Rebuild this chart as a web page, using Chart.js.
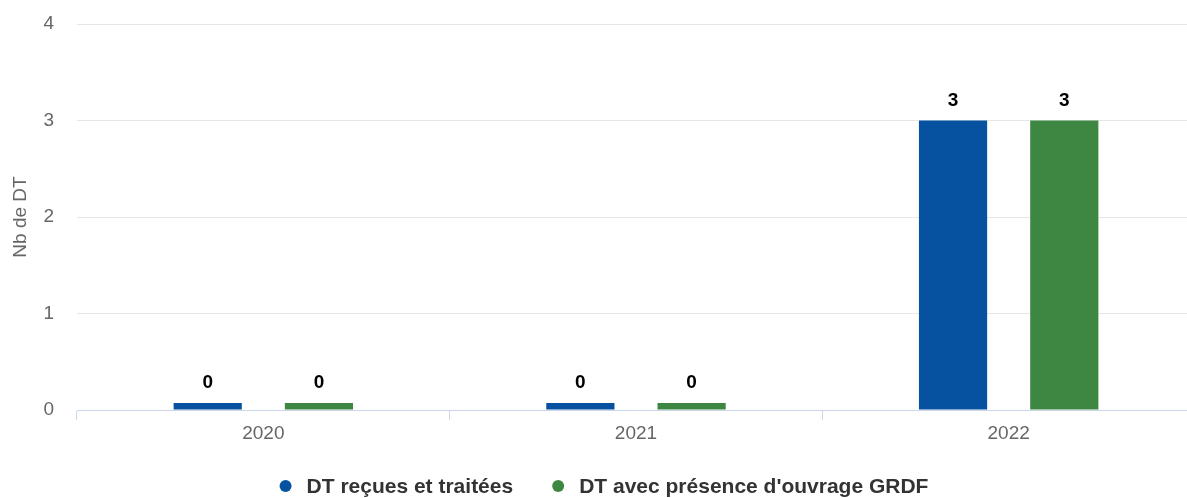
<!DOCTYPE html>
<html>
<head>
<meta charset="utf-8">
<script src="https://cdn.jsdelivr.net/npm/chart.js@4/dist/chart.umd.min.js"></script>
<style>
  html, body { margin: 0; padding: 0; background: #fff; overflow: hidden; }
  #wrap { position: relative; width: 1195px; height: 498px; }
</style>
</head>
<body>
<div id="wrap"><canvas id="c"></canvas></div>
<script>
const categories = ['2020', '2021', '2022'];
const seriesNames = ['DT reçues et traitées', "DT avec présence d'ouvrage GRDF"];
const dtRecues = [0, 0, 3];
const dtOuvrage = [0, 0, 3];
const yTicks = [0, 1, 2, 3, 4];
const yTitle = 'Nb de DT';

const FONT = "'Liberation Sans', Arial, Helvetica, sans-serif";

const dataLabels = {
  id: 'dataLabels',
  afterDatasetsDraw(chart) {
    const ctx = chart.ctx;
    ctx.save();
    ctx.font = 'bold 19px ' + FONT;
    ctx.fillStyle = '#000000';
    ctx.textAlign = 'center';
    ctx.textBaseline = 'middle';
    chart.data.datasets.forEach((ds, i) => {
      const meta = chart.getDatasetMeta(i);
      meta.data.forEach((bar, j) => {
        ctx.fillText(String(ds.data[j]), bar.x, bar.y - 20);
      });
    });
    ctx.restore();
  }
};

// Legend drawn from the chart's own datasets (labels and colours)
const bottomLegend = {
  id: 'bottomLegend',
  afterDraw(chart) {
    const ctx = chart.ctx;
    ctx.save();
    ctx.font = 'bold 21px ' + FONT;
    const r = 6, toText = 21, between = 39;
    const items = chart.data.datasets.map(ds => ({
      text: ds.label, color: ds.backgroundColor, w: ctx.measureText(ds.label).width
    }));
    let total = 0;
    items.forEach((it, i) => { total += r + toText + it.w + (i < items.length - 1 ? between : 0); });
    const cy = 486;
    let x = 604 - total / 2;
    ctx.textBaseline = 'middle';
    ctx.textAlign = 'left';
    items.forEach(it => {
      ctx.beginPath();
      ctx.fillStyle = it.color;
      ctx.arc(x + r, cy, r, 0, Math.PI * 2);
      ctx.fill();
      ctx.fillStyle = '#333333';
      ctx.fillText(it.text, x + r + toText, cy + 1);
      x += r + toText + it.w + between;
    });
    ctx.restore();
  }
};

new Chart(document.getElementById('c'), {
  type: 'bar',
  data: {
    labels: categories,
    datasets: [
      { label: seriesNames[0], data: dtRecues, backgroundColor: '#0652a0', borderWidth: 0,
        minBarLength: 7, categoryPercentage: 0.597, barPercentage: 0.613 },
      { label: seriesNames[1], data: dtOuvrage, backgroundColor: '#3e8743', borderWidth: 0,
        minBarLength: 7, categoryPercentage: 0.597, barPercentage: 0.613 }
    ]
  },
  options: {
    responsive: true,
    maintainAspectRatio: false,
    animation: false,
    devicePixelRatio: 1,
    layout: { padding: { top: 24, left: 12, right: 0, bottom: 52 } },
    plugins: {
      tooltip: { enabled: false },
      legend: { display: false }
    },
    scales: {
      x: {
        afterFit(scale) { scale.height = 36; },
        grid: { drawOnChartArea: false, offset: true, tickLength: 10, color: '#ccd6eb' },
        border: { color: '#ccd6eb', width: 1 },
        ticks: { color: '#666666', padding: 2, font: { family: FONT, size: 19 } }
      },
      y: {
        min: 0,
        max: 4,
        afterFit(scale) { scale.width = 65; },
        afterBuildTicks(scale) { scale.ticks = yTicks.map(v => ({ value: v })); },
        grid: {
          drawTicks: true,
          tickLength: 23,
          tickColor: 'rgba(0,0,0,0)',
          color: (c) => (c.tick && c.tick.value === 0) ? 'rgba(0,0,0,0)' : '#e6e6e6'
        },
        border: { display: false },
        ticks: { color: '#666666', padding: 0, font: { family: FONT, size: 19 } },
        title: {
          display: true,
          text: yTitle,
          color: '#666666',
          padding: { top: -3, bottom: 0 },
          font: { family: FONT, size: 19 }
        }
      }
    }
  },
  plugins: [dataLabels, bottomLegend]
});
</script>
</body>
</html>
